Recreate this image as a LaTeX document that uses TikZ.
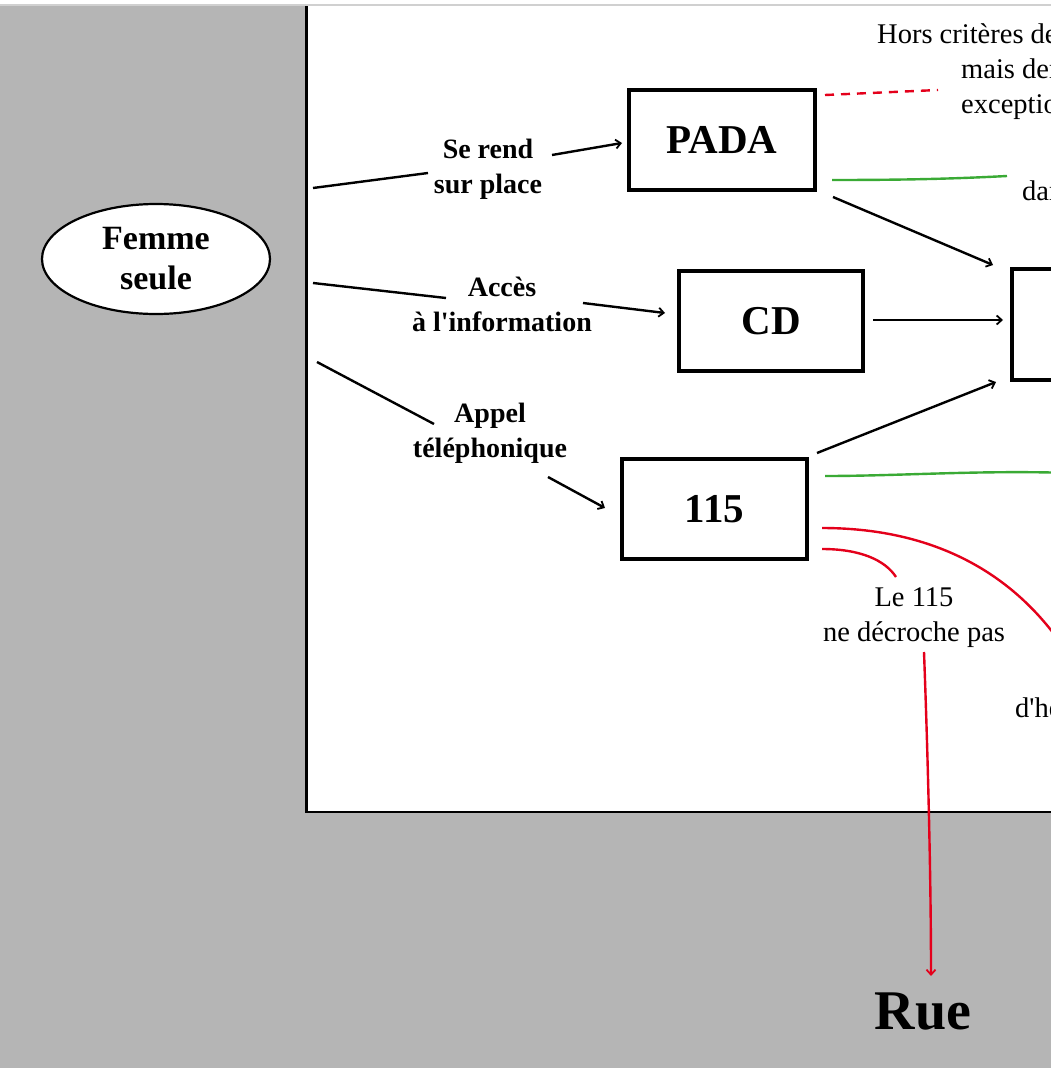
\documentclass[tikz,border=0pt]{standalone}
\usepackage{fontspec}
\setmainfont{Liberation Serif}[Ligatures=TeXOff]
\usetikzlibrary{arrows.meta,shapes.geometric}
\definecolor{bggray}{RGB}{181,181,181}
\definecolor{rulegray}{RGB}{208,208,208}
\definecolor{flowred}{RGB}{228,0,27}
\definecolor{flowgreen}{RGB}{58,170,53}
\tikzset{
  stagebox/.style={draw, line width=4.5pt, fill=white, inner sep=0pt,
    minimum height=100pt, font=\fontsize{41}{48}\selectfont\bfseries},
  pathlabel/.style={align=center, inner sep=0pt,
    font=\fontsize{28}{35}\selectfont\bfseries},
  note/.style={inner sep=0pt, font=\fontsize{28.5}{35}\selectfont},
  link/.style={line width=2.4pt},
  arr/.style={line width=2.4pt, -{Straight Barb[length=5pt,width=9pt,line width=1.8pt]}},
  refuse/.style={line width=2.4pt, flowred},
  accept/.style={line width=2.4pt, flowgreen}
}
\begin{document}
\begin{tikzpicture}[x=1pt,y=-1pt]
\useasboundingbox (0,0) rectangle (1051,1068);
\clip (0,0) rectangle (1051,1068);
% page background and the white panel of the circuit
\fill[bggray] (0,0) rectangle (1051,1068);
\draw[fill=white, line width=2.5pt] (306.5,-20) rectangle (1120,812);
\fill[white] (0,-1) rectangle (1051,4.5);
\draw[rulegray, line width=1.5pt] (0,5) -- (1051,5);

% starting point
\node[ellipse, draw, line width=2.2pt, fill=white, minimum width=228pt, minimum height=110pt,
      inner sep=0pt, align=center, font=\fontsize{34}{40}\selectfont\bfseries]
      (femme) at (156,259) {Femme\\seule};

% entry points
\node[stagebox, minimum width=186pt] (pada) at (722,140) {PADA};
\node[stagebox, minimum width=184pt] (cd) at (771,321) {CD};
\node[stagebox, minimum width=185pt] (n115) at (714.5,509) {115};
\node[stagebox, minimum width=376pt, minimum height=111pt] (next) at (1200,324.5) {};

% access routes
\node[pathlabel] (serend) at (488,169) {Se rend\\sur place};
\node[pathlabel] (acces) at (502,304) {Accès\\à l'information};
\node[pathlabel] (appel) at (490,433) {Appel\\téléphonique};

\coordinate (sr1) at (313,188); \coordinate (sr2) at (428,173);
\coordinate (sr3) at (552,155); \coordinate (sr4) at (622,143);
\coordinate (ac1) at (313,283); \coordinate (ac2) at (446,298);
\coordinate (ac3) at (583,303); \coordinate (ac4) at (665,313);
\coordinate (ap1) at (317,362); \coordinate (ap2) at (434,424);
\coordinate (ap3) at (548,477); \coordinate (ap4) at (605,508);

\draw[link] (sr1) -- (sr2);
\draw[arr] (sr3) -- (sr4);
\draw[link] (ac1) -- (ac2);
\draw[arr] (ac3) -- (ac4);
\draw[link] (ap1) -- (ap2);
\draw[arr] (ap3) -- (ap4);

% orientation towards the next stage
\coordinate (pa1) at (833,197); \coordinate (pa2) at (993,265);
\coordinate (cd1) at (873,320); \coordinate (cd2) at (1003,320);
\coordinate (nu1) at (817,453); \coordinate (nu2) at (996,382);
\draw[arr] (pa1) -- (pa2);
\draw[arr] (cd1) -- (cd2);
\draw[arr] (nu1) -- (nu2);

% side notes
\node[note, anchor=base west] (hors1) at (877,43) {Hors critères de};
\node[note, anchor=base west] (hors2) at (961,78) {mais demande};
\node[note, anchor=base west] (hors3) at (961,113) {exceptionnelle};
\node[note, anchor=base west] (dans) at (1022,200) {dans};
\node[note, anchor=base west] (heberg) at (1015,717) {d'hébergement};

\coordinate (hd1) at (825,95); \coordinate (hd2) at (938,90);
\draw[refuse, dash pattern=on 9pt off 7pt] (hd1) -- (hd2);

\coordinate (pg1) at (832,180); \coordinate (pg2) at (1007,176);
\draw[accept] (pg1) .. controls (900,180) and (950,179) .. (pg2);

\coordinate (ng1) at (825,476); \coordinate (ng2) at (1070,473);
\draw[accept] (ng1) .. controls (900,476) and (980,470) .. (ng2);

\coordinate (nr1) at (822,528); \coordinate (nr2) at (1062,645);
\draw[refuse] (nr1) .. controls (930,528) and (1010,570) .. (nr2);

% no answer from the 115: back to the street
\node[note, align=center] (nodecro) at (914,617.5) {Le 115\\ne décroche pas};
\node[inner sep=0pt, anchor=base, font=\fontsize{56}{60}\selectfont\bfseries] (rue) at (923,1029) {Rue};

\coordinate (nd1) at (822,549); \coordinate (nd2) at (896,577);
\draw[refuse] (nd1) .. controls (860,549) and (885,560) .. (nd2);
\coordinate (nd3) at (924,652); \coordinate (nd4) at (931,976);
\draw[refuse, -{Straight Barb[length=5pt,width=9pt,line width=1.8pt]}]
  (nd3) .. controls (928,760) and (931,880) .. (nd4);
\end{tikzpicture}
\end{document}
